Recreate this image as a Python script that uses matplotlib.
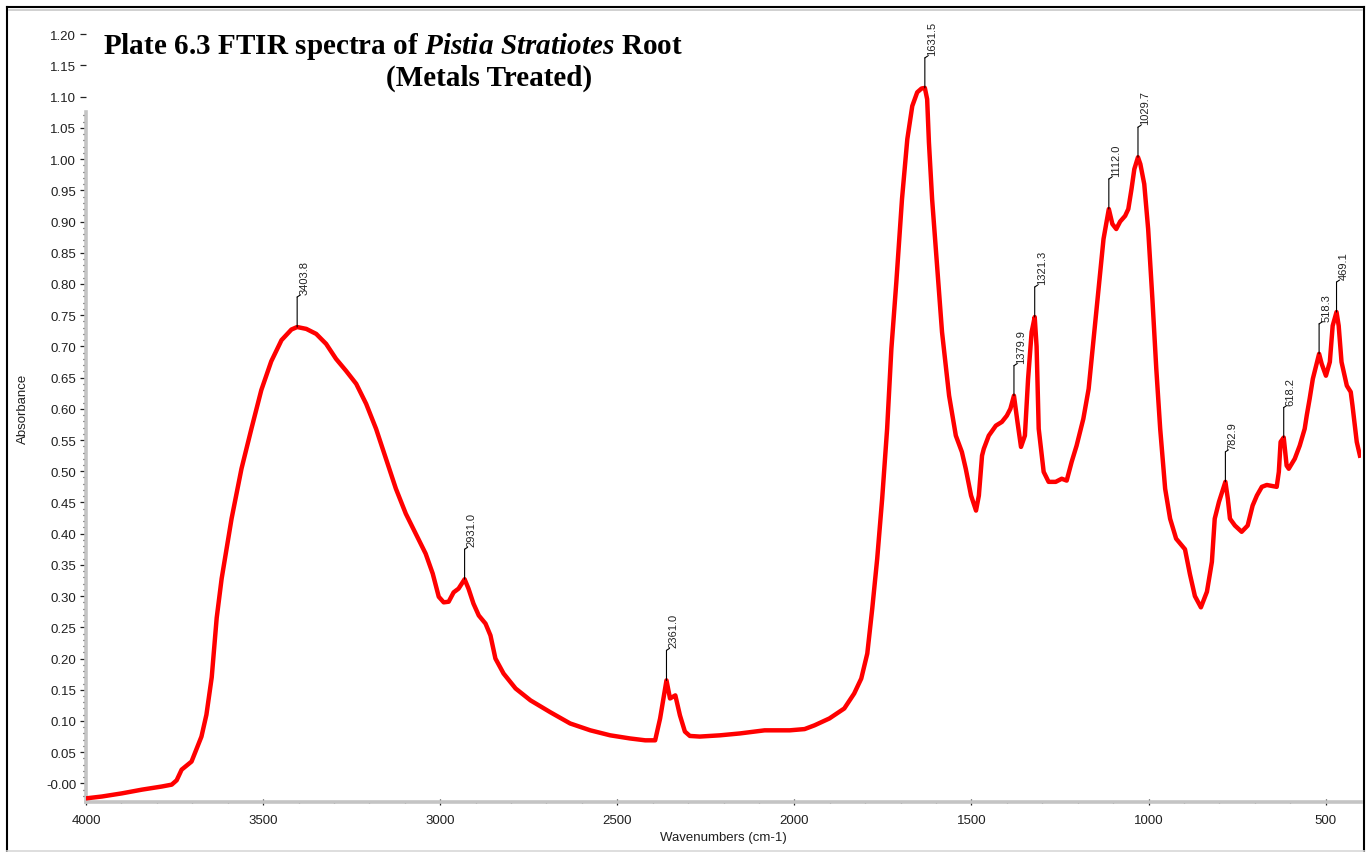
import numpy as np
import matplotlib
matplotlib.use('Agg')
from matplotlib import pyplot as plt
from matplotlib import transforms
from matplotlib.lines import Line2D
from matplotlib.ticker import FixedLocator, FixedFormatter

# FTIR absorbance spectrum, wavenumber in cm-1 (descending)
wavenumber = [4000, 3955, 3899, 3842, 3786, 3758, 3744, 3730, 3713, 3702, 3688, 3674, 3660, 3645,
              3631, 3617, 3589, 3561, 3533, 3505, 3477, 3448, 3420, 3403.8, 3378, 3350, 3322, 3294,
              3266, 3237, 3209, 3181, 3153, 3125, 3097, 3069, 3041, 3021, 3004, 2990, 2976, 2962,
              2948, 2931.0, 2920, 2906, 2891, 2872, 2858, 2844, 2821, 2787, 2745, 2689, 2633, 2576,
              2520, 2464, 2421, 2393, 2379, 2361.0, 2351, 2336, 2323, 2309, 2295, 2267, 2210, 2154,
              2084, 2013, 1971, 1943, 1901, 1859, 1831, 1811, 1794, 1780, 1766, 1752, 1738, 1726,
              1712, 1696, 1681, 1667, 1653, 1641, 1631.5, 1625, 1620, 1611, 1597, 1583, 1563, 1544,
              1527, 1516, 1501, 1487, 1479, 1470, 1465, 1451, 1431, 1414, 1400, 1390, 1379.9, 1370,
              1360, 1349, 1340, 1330, 1321.3, 1316, 1310, 1296, 1282, 1262, 1245, 1231, 1217, 1203,
              1184, 1169, 1155, 1141, 1127, 1112.0, 1102, 1091, 1080, 1066, 1057, 1048, 1040, 1029.7,
              1023, 1012, 1001, 989, 978, 967, 953, 939, 922, 897, 883, 869, 852, 835, 821, 813, 801,
              782.9, 776, 770, 756, 737, 720, 706, 694, 680, 666, 638, 632, 627, 618.2, 610, 604, 587,
              573, 559, 553, 545, 536, 518.3, 511, 499, 488, 480, 469.1, 463, 455, 440, 429, 424, 412,
              403]
absorbance = [-0.024, -0.021, -0.016, -0.010, -0.005, -0.002, 0.005, 0.022, 0.030, 0.035, 0.055,
              0.075, 0.110, 0.170, 0.265, 0.328, 0.424, 0.504, 0.568, 0.630, 0.676, 0.710, 0.727,
              0.731, 0.728, 0.720, 0.704, 0.680, 0.661, 0.640, 0.608, 0.568, 0.520, 0.472, 0.432,
              0.400, 0.368, 0.336, 0.299, 0.290, 0.291, 0.306, 0.312, 0.327, 0.312, 0.288, 0.269,
              0.256, 0.237, 0.200, 0.176, 0.152, 0.133, 0.114, 0.096, 0.085, 0.077, 0.072, 0.069,
              0.069, 0.104, 0.165, 0.136, 0.141, 0.109, 0.083, 0.076, 0.075, 0.077, 0.080, 0.085,
              0.085, 0.087, 0.093, 0.104, 0.120, 0.144, 0.168, 0.208, 0.280, 0.360, 0.456, 0.568,
              0.696, 0.803, 0.936, 1.032, 1.085, 1.107, 1.113, 1.114, 1.096, 1.027, 0.936, 0.829,
              0.723, 0.621, 0.557, 0.531, 0.504, 0.461, 0.437, 0.461, 0.525, 0.536, 0.557, 0.573,
              0.579, 0.589, 0.600, 0.621, 0.579, 0.539, 0.557, 0.648, 0.723, 0.747, 0.700, 0.568,
              0.499, 0.483, 0.483, 0.488, 0.485, 0.515, 0.541, 0.584, 0.632, 0.712, 0.792, 0.872,
              0.920, 0.896, 0.888, 0.900, 0.909, 0.920, 0.952, 0.984, 1.003, 0.992, 0.960, 0.888,
              0.776, 0.664, 0.568, 0.472, 0.424, 0.392, 0.375, 0.335, 0.300, 0.282, 0.307, 0.355,
              0.424, 0.451, 0.483, 0.456, 0.424, 0.413, 0.403, 0.413, 0.445, 0.461, 0.475, 0.478,
              0.475, 0.499, 0.547, 0.554, 0.509, 0.504, 0.520, 0.541, 0.568, 0.590, 0.616, 0.648,
              0.688, 0.672, 0.653, 0.675, 0.733, 0.755, 0.733, 0.675, 0.637, 0.627, 0.605, 0.547,
              0.525]

peak_positions = [3403.8, 2931.0, 2361.0, 1631.5, 1379.9, 1321.3, 1112.0, 1029.7, 782.9, 618.2, 518.3, 469.1]
peak_labels = ['3403.8', '2931.0', '2361.0', '1631.5', '1379.9', '1321.3', '1112.0', '1029.7',
               '782.9', '618.2', '518.3', '469.1']

xticks = [4000, 3500, 3000, 2500, 2000, 1500, 1000, 500]
xtick_labels = ['4000', '3500', '3000', '2500', '2000', '1500', '1000', '500']
yticks = [round(0.05 * i, 2) for i in range(25)]
ytick_labels = ['-0.00'] + ['%.2f' % v for v in yticks[1:]]

W, H = 1370, 853
fig = plt.figure(figsize=(W / 100, H / 100), dpi=100)
fig.patch.set_facecolor('white')

# axes box in pixels: left 86, right 1361, top 14, bottom 803
ax = fig.add_axes([86 / W, (H - 803) / H, (1361 - 86) / W, (803 - 14) / H])
ax.set_xlim(4000, 400)
ax.set_ylim(-0.0298, 1.234)

ax.plot(wavenumber, absorbance, color='#ff0000', lw=3.2, solid_joinstyle='round', zorder=3)

for side in ('top', 'right'):
    ax.spines[side].set_visible(False)
for side in ('left', 'bottom'):
    ax.spines[side].set_color('#c4c4c4')
    ax.spines[side].set_linewidth(2.6)
ax.spines['left'].set_bounds(-0.0298, 1.075)

tick_font = dict(family=['Liberation Sans', 'DejaVu Sans'], size=9.5, color='#202020')
ax.xaxis.set_major_locator(FixedLocator(xticks))
ax.xaxis.set_major_formatter(FixedFormatter(xtick_labels))
ax.xaxis.set_minor_locator(FixedLocator(np.arange(500, 4000, 100)))
ax.yaxis.set_major_locator(FixedLocator(yticks))
ax.yaxis.set_major_formatter(FixedFormatter(ytick_labels))
ax.yaxis.set_minor_locator(FixedLocator([v / 100 for v in range(-2, 108)]))
ax.tick_params(axis='both', which='major', length=4, width=0.9, color='#222222', direction='out', pad=3)
ax.tick_params(axis='both', which='minor', length=2, width=0.9, color='#222222', direction='out')
ax.tick_params(axis='x', which='major', direction='inout', length=5, pad=6)
ax.tick_params(axis='x', which='minor', direction='inout', length=2)
for lab in ax.get_xticklabels() + ax.get_yticklabels():
    lab.set_fontfamily(tick_font['family'])
    lab.set_fontsize(tick_font['size'])
    lab.set_color(tick_font['color'])

ax.set_xlabel('Wavenumbers (cm-1)', fontdict=tick_font, labelpad=4)
ax.set_ylabel('Absorbance', fontdict=tick_font)
ax.yaxis.set_label_coords(-0.045, 0.5)

# peak markers: short vertical leader, a small kink and the rotated wavenumber
wn_up = wavenumber[::-1]
ab_up = absorbance[::-1]
for pos, text in zip(peak_positions, peak_labels):
    height = np.interp(pos, wn_up, ab_up)
    top = transforms.offset_copy(ax.transData, fig=fig, x=0, y=30, units='dots')
    ax.annotate('', xy=(pos, height), xytext=(0, 30), textcoords='offset pixels',
                arrowprops=dict(arrowstyle='-', lw=0.8, color='black', shrinkA=0, shrinkB=0))
    ax.annotate('', xy=(pos, height), xycoords=top, xytext=(3, 2), textcoords='offset pixels',
                arrowprops=dict(arrowstyle='-', lw=0.8, color='black', shrinkA=0, shrinkB=0))
    label_tr = transforms.offset_copy(ax.transData, fig=fig, x=7, y=33, units='dots')
    ax.text(pos, height, text, transform=label_tr, rotation=90, ha='center', va='bottom',
            fontsize=8, family=['Liberation Sans', 'DejaVu Sans'], color='#222222')

# title in bold serif with the species name in italics
plt.rcParams['mathtext.fontset'] = 'custom'
plt.rcParams['mathtext.rm'] = 'Liberation Serif:bold'
plt.rcParams['mathtext.it'] = 'Liberation Serif:italic:bold'
plt.rcParams['mathtext.bf'] = 'Liberation Serif:bold'
title1 = r'$\mathrm{Plate\ 6.3\ FTIR\ spectra\ of\ }\mathit{Pistia\ Stratiotes}\mathrm{\ Root}$'
fig.text(103 / W, 1 - 46 / H, title1, fontsize=21, ha='left', va='center')
fig.text(489 / W, 1 - 78 / H, '(Metals Treated)', fontsize=21, ha='center', va='center',
         family=['Liberation Serif', 'DejaVu Serif'], weight='bold')

# outer window frame
px = lambda x: x / W
py = lambda y: 1 - y / H
fig.add_artist(Line2D([px(7), px(7)], [py(8), py(852)], color='black', lw=1.5))
fig.add_artist(Line2D([px(7), px(1364)], [py(8), py(8)], color='black', lw=1.5))
fig.add_artist(Line2D([px(1364), px(1364)], [py(8), py(852)], color='black', lw=1.5))
fig.add_artist(Line2D([px(9), px(1362)], [py(10.5), py(10.5)], color='#c8c8c8', lw=1.2))
fig.add_artist(Line2D([px(7), px(1364)], [py(852), py(852)], color='#d8d8d8', lw=1.2))

fig.savefig('out.png', dpi=100)
plt.close(fig)
